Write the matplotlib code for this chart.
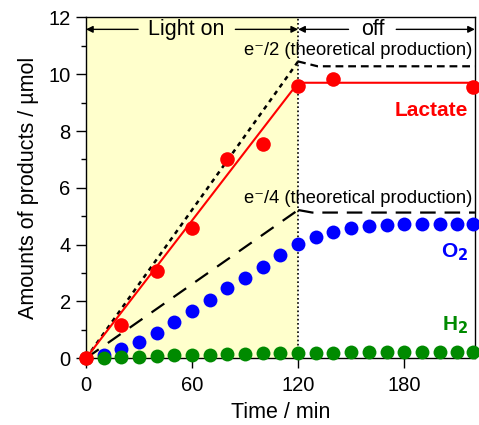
import matplotlib
matplotlib.use("Agg")
import matplotlib.pyplot as plt
import numpy as np

plt.rcParams['font.family'] = ['Liberation Sans', 'DejaVu Sans']

# Data
lac_t = [0, 20, 40, 60, 80, 100, 120, 140, 219]
lac_v = [0, 1.17, 3.06, 4.57, 7.01, 7.53, 9.6, 9.82, 9.55]
lac_fit_t = [0, 120, 220]
lac_fit_v = [0, 9.7, 9.7]

o2_t = [10, 20, 30, 40, 50, 60, 70, 80, 90, 100, 110, 120, 130, 140, 150, 160, 170, 180, 190, 200, 210, 219]
o2_v = [0.13, 0.33, 0.56, 0.89, 1.28, 1.66, 2.05, 2.46, 2.83, 3.22, 3.64, 4.01, 4.27, 4.46, 4.58, 4.64, 4.70, 4.73, 4.74, 4.74, 4.74, 4.74]

h2_t = [0, 10, 20, 30, 40, 50, 60, 70, 80, 90, 100, 110, 120, 130, 140, 150, 160, 170, 180, 190, 200, 210, 219]
h2_v = [0, 0.02, 0.04, 0.06, 0.08, 0.10, 0.11, 0.13, 0.14, 0.15, 0.17, 0.18, 0.19, 0.20, 0.20, 0.21, 0.21, 0.22, 0.22, 0.22, 0.22, 0.23, 0.23]

e2_on_t = [0, 120]
e2_on_v = [0, 10.45]
e2_off_t = [120, 131, 220]
e2_off_v = [10.45, 10.28, 10.28]

e4_on_t = [0, 120]
e4_on_v = [0, 5.22]
e4_off_t = [120, 128, 220]
e4_off_v = [5.22, 5.13, 5.13]

light_on = (0, 120)
x_end = 220

fig = plt.figure(figsize=(4.79, 4.25), dpi=100)
ax = fig.add_axes([0.1795, 0.157, 0.812, 0.802])

ax.axvspan(light_on[0], light_on[1], color='#ffffcc', zorder=0, lw=0)
ax.plot([120, 120], [0, 12], color='black', lw=1.2, ls=(0, (1, 1.5)), zorder=1)

# theoretical lines
ax.plot(e2_on_t, e2_on_v, color='black', lw=1.8, ls=(0, (1.8, 1.8)), zorder=2)
ax.plot(e2_off_t, e2_off_v, color='black', lw=1.6, ls=(0, (3.5, 2.2)), zorder=2)
ax.plot(e4_on_t, e4_on_v, color='black', lw=1.6, ls=(0, (7, 5)), zorder=2)
ax.plot(e4_off_t, e4_off_v, color='black', lw=1.6, ls=(0, (7, 4)), zorder=2)

ax.plot(lac_fit_t, lac_fit_v, color='#ff0000', lw=1.5, zorder=3)

ax.plot(o2_t, o2_v, 'o', color='#0000ff', ms=10, mec='none', zorder=4, clip_on=False)
ax.plot(h2_t, h2_v, 'o', color='#008a00', ms=10, mec='none', zorder=5, clip_on=False)
ax.plot(lac_t, lac_v, 'o', color='#ff0000', ms=10.5, mec='none', zorder=6, clip_on=False)

ax.set_xlim(0, x_end)
ax.set_ylim(0, 12)
ax.set_xticks([0, 60, 120, 180])
ax.set_yticks([0, 2, 4, 6, 8, 10, 12])
ax.set_yticks(np.arange(1, 12, 2), minor=True)
ax.tick_params(axis='both', which='major', direction='out', length=7, width=1, labelsize=14.5, pad=4)
ax.tick_params(axis='y', which='minor', direction='out', length=3.6, width=1)
ax.tick_params(axis='x', which='major', pad=6)
for s in ax.spines.values():
    s.set_linewidth(1)

ax.set_xlabel('Time / min', fontsize=15.5, labelpad=5)
ax.set_ylabel('Amounts of products / µmol', fontsize=15.5, labelpad=7)

# arrows (split around the labels)
arr_y = 11.58
arrow_kw = dict(arrowstyle='-|>', color='black', lw=1, mutation_scale=10, shrinkA=0, shrinkB=0)
def span_arrow(x0, x1, gap0, gap1):
    ax.annotate('', xy=(x0, arr_y), xytext=(gap0, arr_y), arrowprops=arrow_kw)
    ax.annotate('', xy=(x1, arr_y), xytext=(gap1, arr_y), arrowprops=arrow_kw)

span_arrow(0, 120, 29.5, 84.5)
span_arrow(120, x_end, 148.5, 175.5)
ax.text(56.5, arr_y, 'Light on', fontsize=15.5, ha='center', va='center', zorder=7)
ax.text(162, arr_y, 'off', fontsize=15.5, ha='center', va='center', zorder=7)

ax.text(218.5, 10.85, 'e\u207b/2 (theoretical production)', fontsize=13.2, ha='right', va='center', zorder=7)
ax.text(218.5, 5.63, 'e\u207b/4 (theoretical production)', fontsize=13.2, ha='right', va='center', zorder=7)
ax.text(216, 8.74, 'Lactate', fontsize=15, fontweight='bold', color='#ff0000', ha='right', va='center')
ax.text(216, 3.72, 'O$_\\mathbf{2}$', fontsize=15, fontweight='bold', color='#0000ff', ha='right', va='center')
ax.text(216, 1.15, 'H$_\\mathbf{2}$', fontsize=15, fontweight='bold', color='#008a00', ha='right', va='center')

fig.savefig('out.png', dpi=100)
